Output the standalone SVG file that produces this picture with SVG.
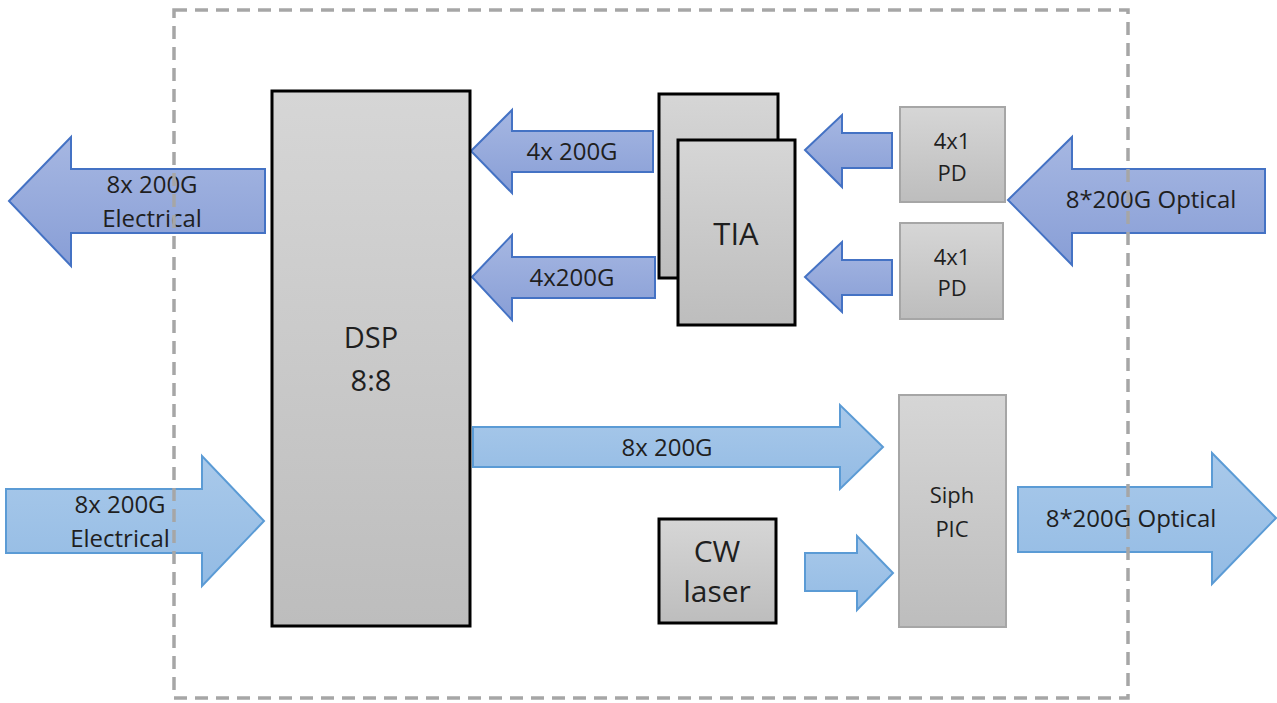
<svg xmlns="http://www.w3.org/2000/svg" width="1277" height="703" viewBox="0 0 1277 703">
<defs>
<linearGradient id="gGray" x1="0" y1="0" x2="0" y2="1"><stop offset="0" stop-color="#d6d6d6"/><stop offset="1" stop-color="#bdbdbd"/></linearGradient>
<linearGradient id="gDark" x1="0" y1="0" x2="0" y2="1"><stop offset="0" stop-color="#a6b7e2"/><stop offset="1" stop-color="#889ed6"/></linearGradient>
<linearGradient id="gLight" x1="0" y1="0" x2="0" y2="1"><stop offset="0" stop-color="#a9c9ea"/><stop offset="1" stop-color="#93bbe4"/></linearGradient>
</defs>
<style>
text{font-family:"Open Sans","Liberation Sans",sans-serif;fill:#1f1f1f;text-anchor:middle}
.bk{fill:url(#gGray);stroke:#000;stroke-width:3}
.gy{fill:url(#gGray);stroke:#a6a6a6;stroke-width:2}
.da{fill:url(#gDark);stroke:#4472c4;stroke-width:2;stroke-linejoin:miter}
.la{fill:url(#gLight);stroke:#5b9bd5;stroke-width:2;stroke-linejoin:miter}
.t24{font-size:24px}
.t23{font-size:23px}
.t22{font-size:22px}
.big{font-size:30px}
</style>
<rect width="1277" height="703" fill="#fff"/>
<g id="connectors">
<g id="arrow-elec-out">
<polygon class="da" points="9,201 71,137 71,169 265,169 265,233 71,233 71,266"/>
<text class="t24" x="152" y="193">8x 200G</text>
<text class="t24" x="152" y="227">Electrical</text>
</g>
<g id="arrow-elec-in">
<polygon class="la" points="6,489 202,489 202,456 264,521 202,586 202,553 6,553"/>
<text class="t24" x="120" y="513">8x 200G</text>
<text class="t24" x="120" y="547">Electrical</text>
</g>
<g id="arrow-tia1-dsp">
<polygon class="da" points="471,151 512,110 512,131 653,131 653,172 512,172 512,193"/>
<text class="t24" x="572" y="160">4x 200G</text>
</g>
<g id="arrow-tia2-dsp">
<polygon class="da" points="472,277 512,235 512,257 655,257 655,298 512,298 512,320"/>
<text class="t24" x="572" y="286">4x200G</text>
</g>
<g id="arrow-pd1-tia">
<polygon class="da" points="805,150 842,115 842,133 892,133 892,168 842,168 842,187"/>
</g>
<g id="arrow-pd2-tia">
<polygon class="da" points="805,277 842,242 842,260 892,260 892,295 842,295 842,312"/>
</g>
<g id="arrow-opt-in">
<polygon class="da" points="1008,200 1072,137 1072,169 1265,169 1265,233 1072,233 1072,265"/>
<text class="t24" x="1151" y="208">8*200G Optical</text>
</g>
<g id="arrow-dsp-pic">
<polygon class="la" points="473,427 840,427 840,405 883,447 840,489 840,467 473,467"/>
<text class="t24" x="667" y="456">8x 200G</text>
</g>
<g id="arrow-laser-pic">
<polygon class="la" points="805,553 857,553 857,536 893,573 857,610 857,591 805,591"/>
</g>
<g id="arrow-opt-out">
<polygon class="la" points="1018,487 1212,487 1212,453 1276,518 1212,584 1212,552 1018,552"/>
<text class="t24" x="1131" y="527">8*200G Optical</text>
</g>
</g>
<g id="dsp">
<rect class="bk" x="272" y="91" width="198" height="535"/>
<text class="big" x="371" y="348" style="font-size:29px">DSP</text>
<text class="big" x="371" y="391" style="font-size:29px">8:8</text>
</g>
<g id="tia">
<rect class="bk" x="659" y="94" width="119" height="184"/>
<rect class="bk" x="678" y="140" width="117" height="185"/>
<text class="big" x="736" y="245" style="font-size:31px">TIA</text>
</g>
<g id="pd1">
<rect class="gy" x="900" y="107" width="105" height="95"/>
<text class="t22" x="952" y="149">4x1</text>
<text class="t22" x="952" y="181">PD</text>
</g>
<g id="pd2">
<rect class="gy" x="900" y="223" width="103" height="96"/>
<text class="t22" x="952" y="265">4x1</text>
<text class="t22" x="952" y="296">PD</text>
</g>
<g id="cw-laser">
<rect class="bk" x="659" y="519" width="117" height="104"/>
<text class="big" x="717" y="562">CW</text>
<text class="big" x="717" y="602">laser</text>
</g>
<g id="siph-pic">
<rect class="gy" x="899" y="395" width="107" height="232"/>
<text class="t22" x="952" y="503">Siph</text>
<text class="t22" x="952" y="537">PIC</text>
</g>
<g id="module-boundary">
<rect x="174" y="10" width="954" height="688" fill="none" stroke="#a6a6a6" stroke-width="3.5" stroke-dasharray="13,8"/>
</g>
</svg>
